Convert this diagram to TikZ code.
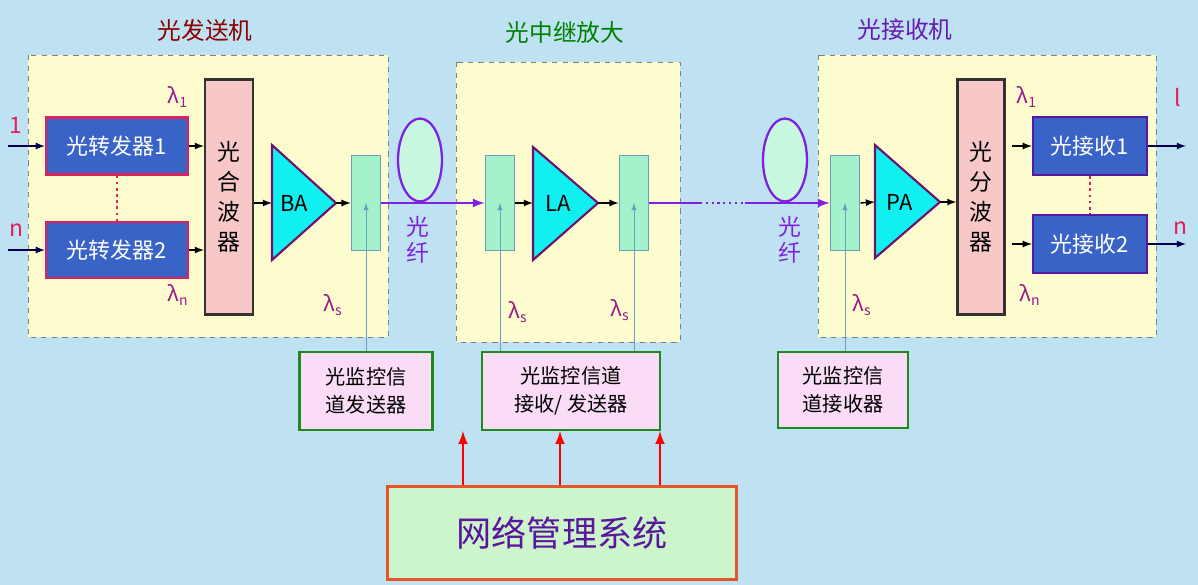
\documentclass[tikz,border=0pt]{standalone}
\usepackage{fontspec}
\setmainfont{Noto Sans CJK SC}
\usetikzlibrary{positioning,shapes.geometric}
\definecolor{bgblue}{HTML}{BEE2F2}
\definecolor{paleyellow}{HTML}{FDFCCF}
\definecolor{xpblue}{HTML}{3A63C8}
\definecolor{xpred}{HTML}{E0205A}
\definecolor{mixpink}{HTML}{F8C8C8}
\definecolor{cplgreen}{HTML}{A4F2CC}
\definecolor{cplblue}{HTML}{6E9EBE}
\definecolor{fibpurple}{HTML}{8020E0}
\definecolor{ampcyan}{HTML}{10F0F0}
\definecolor{ampborder}{HTML}{70106A}
\definecolor{supfill}{HTML}{FADCF6}
\definecolor{supgreen}{HTML}{208A20}
\definecolor{nmsfill}{HTML}{CCF5CC}
\definecolor{nmsred}{HTML}{E8542A}
\definecolor{lampurple}{HTML}{9A1A8A}
\newcommand{\lam}[1]{λ\textsubscript{#1}}
\tikzset{
  zone/.style={draw=gray,dashed,fill=paleyellow},
  xpd/.style={draw=xpred,line width=1.3pt,fill=xpblue,text=white,font=\fontsize{12.5}{13}\selectfont},
  rcv/.style={draw=fibpurple!70!black,line width=1.3pt,fill=xpblue,text=white,font=\fontsize{12.5}{13}\selectfont},
  mux/.style={draw=black!80,line width=1.2pt,fill=mixpink,font=\fontsize{13}{17}\selectfont,align=center},
  cpl/.style={draw=cplblue,line width=1pt,fill=cplgreen},
  amp/.style={draw=ampborder,line width=1.2pt,fill=ampcyan},
  sup/.style={draw=supgreen,line width=1.3pt,fill=supfill,align=center,font=\fontsize{11.5}{16}\selectfont},
  lamlbl/.style={text=lampurple,font=\fontsize{12}{12}\selectfont},
  fib/.style={draw=fibpurple,line width=1.3pt,fill=cplgreen!60,ellipse,minimum width=0.88cm,minimum height=1.66cm,inner sep=0pt},
  arr/.style={-latex,thick,black},
  io/.style={-latex,thick,blue!30!black},
  mon/.style={-latex,cplblue},
  ampname/.style={font=\fontsize{12.5}{13}\selectfont},
}
\begin{document}
\begin{tikzpicture}[x=0.02cm,y=-0.02cm]
  \fill[bgblue] (0,0) rectangle (1198,585);
  \useasboundingbox (0,0) rectangle (1198,585);
  % three stages
  \draw[zone] (28,55) rectangle (388,337);
  \draw[zone] (456,62) rectangle (680,342);
  \draw[zone] (818,55) rectangle (1156,337);
  \node[text=red!55!black,font=\fontsize{13.5}{14}\selectfont] (t1) at (205,30) {光发送机};
  \node[text=green!50!black,font=\fontsize{13.5}{14}\selectfont] (t2) at (565,32) {光中继放大};
  \node[text=fibpurple!80!black,font=\fontsize{13.5}{14}\selectfont] (t3) at (905,30) {光接收机};

  % transmitter
  \node[xpd,minimum width=2.84cm,minimum height=1.14cm] (x1) at (117,146) {光转发器1};
  \node[xpd,minimum width=2.84cm,minimum height=1.12cm] (x2) at (117,250) {光转发器2};
  \draw[xpred,dotted,line width=1.5pt] (x1) -- (x2);
  \node[mux,minimum width=0.96cm,minimum height=4.7cm] (mx) at (229,197) {光\\合\\波\\器};
  \draw[amp] (272,145) coordinate (ba1) -- (336,203) coordinate (ba) -- (272,260) -- cycle;
  \node[ampname] at (294,203) {BA};
  \node[cpl,minimum width=0.58cm,minimum height=1.9cm] (c1) at (366,203) {};
  \coordinate (in1) at (8,146); \coordinate (in2) at (8,250);
  \draw[io] (in1) -- (x1); \draw[io] (in2) -- (x2);
  \node[text=xpred,font=\fontsize{13}{14}\selectfont] at (16,125) {1};
  \node[text=xpred,font=\fontsize{13}{14}\selectfont] at (16,230) {n};
  \draw[arr] (x1.east) -- (x1.east -| mx.west);
  \draw[arr] (x2.east) -- (x2.east -| mx.west);
  \draw[arr] (mx.east |- ba) -- (272,203);
  \draw[arr] (ba) -- (c1.west);
  \node[lamlbl] at (178,97) {\lam{1}};
  \node[lamlbl] at (178,295) {\lam{n}};
  \node[lamlbl] at (333,305) {\lam{s}};

  % line amplifier
  \node[cpl,minimum width=0.58cm,minimum height=1.9cm] (c2) at (500,203) {};
  \draw[amp] (533,147) -- (598,203) coordinate (la) -- (533,260) -- cycle;
  \node[ampname] at (558,203) {LA};
  \node[cpl,minimum width=0.58cm,minimum height=1.9cm] (c3) at (634,203) {};
  \draw[arr] (c2.east) -- (533,203);
  \draw[arr] (la) -- (c3.west);
  \node[lamlbl] at (518,312) {\lam{s}};
  \node[lamlbl] at (620,310) {\lam{s}};

  % fibres
  \node[fib] (f1) at (420,160) {};
  \node[fib] (f2) at (785,160) {};
  \draw[-latex,fibpurple,line width=1.3pt] (c1.east) -- (c2.west);
  \coordinate (d1) at (700,203); \coordinate (d2) at (745,203);
  \draw[fibpurple,line width=1.3pt] (c3.east) -- (d1);
  \draw[fibpurple,line width=1.3pt,dotted] (d1) -- (d2);
  \node[text=fibpurple,font=\fontsize{13}{15}\selectfont,align=center] at (418,240) {光\\纤};
  \node[text=fibpurple,font=\fontsize{13}{15}\selectfont,align=center] at (790,240) {光\\纤};

  % receiver
  \node[cpl,minimum width=0.58cm,minimum height=1.9cm] (c4) at (845,203) {};
  \draw[-latex,fibpurple,line width=1.3pt] (d2) -- (c4.west);
  \draw[amp] (875,145) -- (940,202) coordinate (pa) -- (875,258) -- cycle;
  \node[ampname] at (900,202) {PA};
  \node[mux,minimum width=0.94cm,minimum height=4.7cm] (dx) at (981,197) {光\\分\\波\\器};
  \node[rcv,minimum width=2.28cm,minimum height=1.16cm] (r1) at (1090,146) {光接收1};
  \node[rcv,minimum width=2.28cm,minimum height=1.16cm] (r2) at (1090,244) {光接收2};
  \draw[xpred,dotted,line width=1.5pt] (r1) -- (r2);
  \draw[arr] (c4.east) -- (875,202);
  \draw[arr] (pa) -- (dx.west |- pa);
  \draw[arr] (1012,146) -- (r1.west);
  \draw[arr] (1012,244) -- (r2.west);
  \coordinate (o1) at (1186,146); \coordinate (o2) at (1186,244);
  \draw[io] (r1) -- (o1); \draw[io] (r2) -- (o2);
  \node[text=xpred,font=\fontsize{13}{14}\selectfont] at (1178,98) {l};
  \node[text=xpred,font=\fontsize{13}{14}\selectfont] at (1180,228) {n};
  \node[lamlbl] at (1027,97) {\lam{1}};
  \node[lamlbl] at (1030,295) {\lam{n}};
  \node[lamlbl] at (862,305) {\lam{s}};

  % supervisory channel
  \node[sup,minimum width=2.66cm,minimum height=1.56cm] (s1) at (366,391) {光监控信\\道发送器};
  \node[sup,minimum width=3.56cm,minimum height=1.56cm] (s2) at (571,391) {光监控信道\\接收/ 发送器};
  \node[sup,minimum width=2.6cm,minimum height=1.52cm] (s3) at (843,390) {光监控信\\道接收器};
  \draw[mon] (s1.north -| c1) -- (c1.center);
  \draw[mon] (s2.north -| c2) -- (c2.center);
  \draw[mon] (s2.north -| c3) -- (c3.center);
  \draw[mon] (s3.north -| c4) -- (c4.center);

  % management
  \node[draw=nmsred,line width=1.5pt,fill=nmsfill,text=fibpurple!70!black,minimum width=6.98cm,minimum height=1.86cm,font=\fontsize{20}{21}\selectfont] (nms) at (562,533) {网络管理系统};
  \foreach \x in {463,560,660}{
    \draw[-latex,red,line width=1.5pt] (nms.north -| \x,0) -- (s2.south -| \x,0);
  }
\end{tikzpicture}
\end{document}
